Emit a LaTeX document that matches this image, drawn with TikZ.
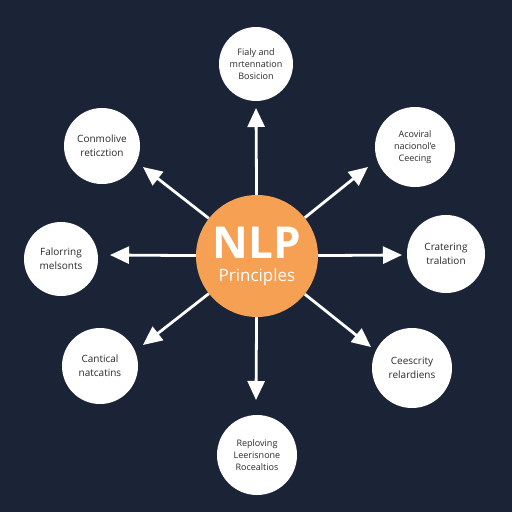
\documentclass[tikz,border=0pt]{standalone}
\usepackage{fontspec}
\setmainfont{Open Sans}
\usetikzlibrary{arrows.meta}
\definecolor{bgnavy}{HTML}{1B2437}
\definecolor{orangec}{HTML}{F5A052}
\definecolor{txtdark}{HTML}{2A2A2A}
\tikzset{
  outer/.style={circle, fill=white, minimum size=76pt, inner sep=0pt, align=center, text=txtdark, font=\fontsize{10}{14}\selectfont},
  spoke/.style={draw=white, line width=2.8pt, -{Triangle[length=19pt,width=17pt]}},
}
\begin{document}
\begin{tikzpicture}[x=1pt,y=-1pt]
\fill[bgnavy] (0,0) rectangle (512,512);
\useasboundingbox (0,0) rectangle (512,512);
% center
\node[circle, fill=orangec, minimum size=122pt, inner sep=0pt] (c) at (257,256) {};
\node[text=white, align=center, inner sep=0pt, font=\fontsize{17}{23}\selectfont] (lbl) at (257,256) {{\fontsize{44}{23}\selectfont\bfseries NLP}\\Principles};
% outer circles
\node[outer, minimum size=74pt, font=\fontsize{9}{12}\selectfont] (t) at (256,64) {Fialy and\\mrtennation\\Bosicion};
\node[outer, minimum size=80pt, font=\fontsize{9}{12}\selectfont] (tr) at (415,147) {Acoviral\\nacionol'e\\Ceecing};
\node[outer] (tl) at (102,146) {Conmolive\\reticztion};
\node[outer, minimum size=74pt] (l) at (61,259) {Falorring\\melsonts};
\node[outer, minimum size=78pt] (r) at (446,254) {Cratering\\tralation};
\node[outer] (bl) at (100,366) {Cantical\\natcatins};
\node[outer, minimum size=80pt] (br) at (412,368) {Ceescrity\\relardiens};
\node[outer, minimum size=80pt, font=\fontsize{9}{12}\selectfont] (b) at (257,455) {Reploving\\Leerisnone\\Rocealtios};
% arrow tips
\coordinate (at) at (256,108);
\coordinate (atr) at (368,167);
\coordinate (atl) at (143,167);
\coordinate (al) at (110,255);
\coordinate (ar) at (402,255);
\coordinate (abl) at (143,345);
\coordinate (abr) at (371,347);
\coordinate (ab) at (256,400);
\foreach \a in {at,atr,atl,al,ar,abl,abr,ab}{
  \draw[spoke] (c) -- (\a);
}
\end{tikzpicture}
\end{document}
